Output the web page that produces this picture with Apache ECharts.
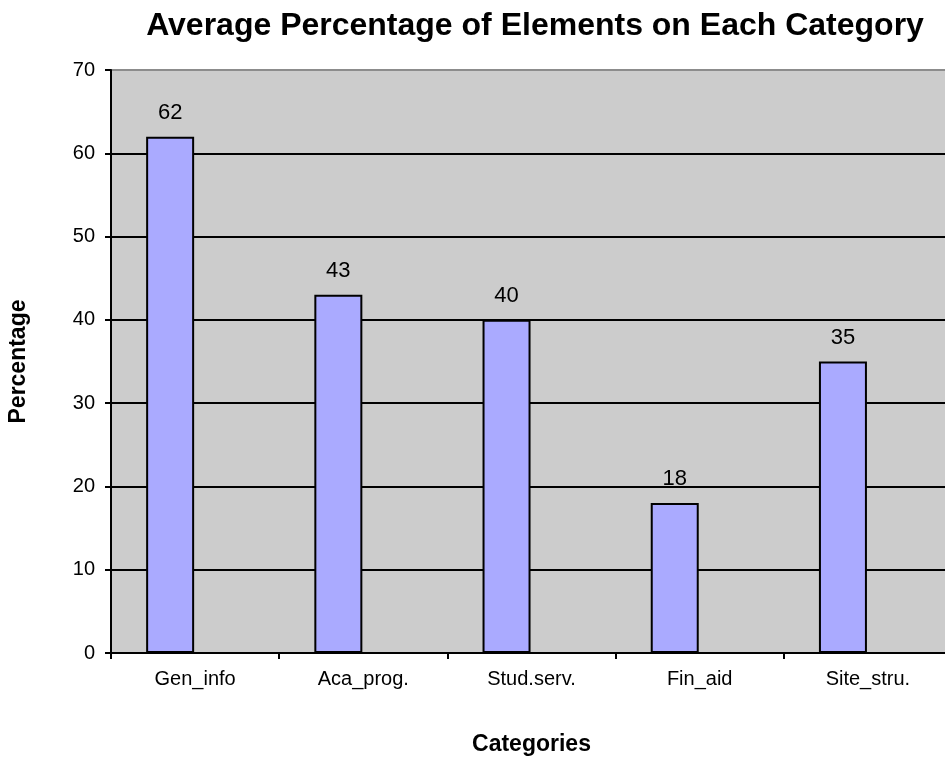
<!DOCTYPE html>
<html>
<head>
<meta charset="utf-8">
<script src="https://cdn.jsdelivr.net/npm/echarts@6/dist/echarts.min.js"></script>
<style>
  html, body { margin: 0; padding: 0; background: #ffffff; overflow: hidden; }
  #chart { width: 945px; height: 758px; }
</style>
</head>
<body>
<div id="chart"></div>
<script>
// Categories and their average percentages
const categories = ['Gen_info', 'Aca_prog.', 'Stud.serv.', 'Fin_aid', 'Site_stru.'];
const percentages = [62, 43, 40, 18, 35];
// Empty companion series: keeps each bar on the left half of its slot
const emptySeries = ['-', '-', '-', '-', '-'];

const chart = echarts.init(document.getElementById('chart'), null, { renderer: 'canvas', width: 945, height: 758 });

// Horizontal gridlines are black; the top edge of the plot is grey
const gridLineColors = ['#000', '#000', '#000', '#000', '#000', '#000', '#000', '#8c8c8c'];

chart.setOption({
  backgroundColor: '#ffffff',
  animation: false,
  title: {
    text: 'Average Percentage of Elements on Each Category',
    left: 530,
    top: 5,
    textAlign: 'center',
    textStyle: {
      fontFamily: 'Liberation Sans',
      fontWeight: 'bold',
      fontSize: 32,
      color: '#000'
    }
  },
  grid: {
    left: 111,
    top: 70,
    width: 841,
    height: 583,
    outerBoundsMode: 'none',
    containLabel: false,
    show: true,
    backgroundColor: '#cccccc',
    borderWidth: 0
  },
  xAxis: {
    type: 'category',
    data: categories,
    name: 'Categories',
    nameLocation: 'middle',
    nameGap: 80,
    nameTextStyle: {
      fontFamily: 'Liberation Sans',
      fontWeight: 'bold',
      fontSize: 23,
      color: '#000'
    },
    axisLine: { show: true, lineStyle: { color: '#000', width: 2 } },
    axisTick: { show: true, length: 6, lineStyle: { color: '#000', width: 2 } },
    axisLabel: {
      margin: 16,
      fontFamily: 'Liberation Sans',
      fontSize: 20,
      color: '#000'
    },
    splitLine: { show: false }
  },
  yAxis: {
    type: 'value',
    min: 0,
    max: 70,
    interval: 10,
    name: 'Percentage',
    nameLocation: 'middle',
    nameGap: 81,
    nameRotate: 90,
    nameTextStyle: {
      fontFamily: 'Liberation Sans',
      fontWeight: 'bold',
      fontSize: 23,
      color: '#000'
    },
    axisLine: { show: true, lineStyle: { color: '#000', width: 2 } },
    axisTick: { show: true, length: 6, lineStyle: { color: '#000', width: 2 } },
    axisLabel: {
      margin: 16,
      fontFamily: 'Liberation Sans',
      fontSize: 20,
      color: '#000',
      padding: [0, 0, 5, 0]
    },
    splitLine: { show: true, lineStyle: { color: gridLineColors, width: 2 } }
  },
  series: [
    {
      type: 'bar',
      data: percentages,
      barWidth: 48,
      barGap: '4%',
      itemStyle: { color: '#aaaaff', borderColor: '#000', borderWidth: 2 },
      label: {
        show: true,
        position: 'top',
        distance: 13,
        fontFamily: 'Liberation Sans',
        fontSize: 22,
        color: '#000'
      }
    },
    {
      type: 'bar',
      data: emptySeries,
      barWidth: 48,
      barGap: '4%'
    }
  ]
});
</script>
</body>
</html>
